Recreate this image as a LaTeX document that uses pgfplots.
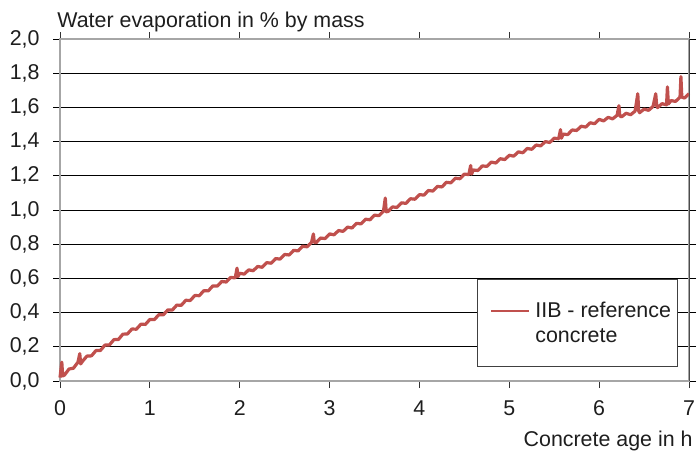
\documentclass[border=0pt]{standalone}
\usepackage{pgfplots}
\pgfplotsset{compat=1.18}
\usepackage{fontspec}
\setmainfont{Liberation Sans}
\definecolor{series}{RGB}{192,80,77}
\definecolor{txt}{RGB}{30,30,30}
\begin{document}
\begin{tikzpicture}
\begin{axis}[
  scale only axis,
  width=314.5pt, height=171pt,
  xmin=0, xmax=7, ymin=0, ymax=2,
  xtick={0,1,2,3,4,5,6,7},
  ytick={0,0.2,0.4,0.6,0.8,1.0,1.2,1.4,1.6,1.8,2.0},
  font=\fontsize{10.7}{12.5}\selectfont,
  /pgf/number format/assume math mode=true,
  /pgf/number format/use comma,
  yticklabel style={/pgf/number format/fixed, /pgf/number format/fixed zerofill, /pgf/number format/precision=1, inner sep=0pt, xshift=-6.5pt, text=txt},
  xticklabel style={inner sep=0pt, yshift=-6pt, anchor=north, text=txt},
  tick align=outside,
  major tick length=3.5pt,
  xtick style={draw=black!80, line width=0.5pt},
  ytick style={draw=black, line width=0.5pt},
  ymajorgrids,
  major grid style={draw=black, line width=0.5pt},
  axis line style={draw=black!35, line width=1pt},
  clip=false,
  legend style={at={(rel axis cs:0.663,0.041)}, anchor=south west, draw=black!75, line width=0.5pt,
    inner xsep=3.5pt, inner ysep=10.25pt, column sep=2.5pt, nodes={inner sep=0pt, text=txt}},
  legend image code/.code={\path (-2.5pt,0pt); \draw[#1, line width=1.25pt] (0pt,6pt) -- (19pt,6pt);},
]
\addplot[color=series, line width=1.6pt, line join=round] coordinates {
(0.00,0.020)(0.02,0.110)(0.03,0.030)(0.05,0.035)(0.10,0.070)(0.15,0.075)(0.20,0.110)(0.22,0.160)(0.23,0.100)
(0.25,0.115)(0.30,0.146)(0.35,0.147)(0.40,0.178)(0.45,0.179)(0.50,0.210)(0.55,0.211)(0.60,0.242)(0.65,0.243)
(0.70,0.274)(0.75,0.275)(0.80,0.304)(0.85,0.303)(0.90,0.332)(0.95,0.331)(1.00,0.360)(1.05,0.359)(1.10,0.388)
(1.15,0.387)(1.20,0.416)(1.25,0.415)(1.30,0.444)(1.35,0.443)(1.40,0.472)(1.45,0.471)(1.50,0.500)(1.55,0.499)
(1.60,0.528)(1.65,0.527)(1.70,0.556)(1.75,0.555)(1.80,0.582)(1.85,0.579)(1.90,0.606)(1.95,0.603)(1.97,0.660)
(1.98,0.610)(2.00,0.630)(2.05,0.625)(2.10,0.650)(2.15,0.645)(2.20,0.670)(2.25,0.665)(2.30,0.692)(2.35,0.689)
(2.40,0.716)(2.45,0.713)(2.50,0.740)(2.55,0.737)(2.60,0.764)(2.65,0.761)(2.70,0.788)(2.75,0.785)(2.80,0.812)
(2.82,0.860)(2.83,0.810)(2.85,0.809)(2.90,0.836)(2.95,0.833)(3.00,0.860)(3.05,0.855)(3.10,0.880)(3.15,0.875)
(3.20,0.900)(3.25,0.895)(3.30,0.922)(3.35,0.919)(3.40,0.946)(3.45,0.943)(3.50,0.970)(3.55,0.967)(3.60,0.994)
(3.62,1.070)(3.63,0.990)(3.65,0.991)(3.70,1.018)(3.75,1.015)(3.80,1.042)(3.85,1.039)(3.90,1.066)(3.95,1.063)
(4.00,1.090)(4.05,1.087)(4.10,1.114)(4.15,1.111)(4.20,1.138)(4.25,1.135)(4.30,1.162)(4.35,1.159)(4.40,1.186)
(4.45,1.183)(4.50,1.210)(4.55,1.207)(4.57,1.260)(4.58,1.210)(4.60,1.234)(4.65,1.231)(4.70,1.258)(4.75,1.255)
(4.80,1.280)(4.85,1.275)(4.90,1.300)(4.95,1.295)(5.00,1.320)(5.05,1.315)(5.10,1.340)(5.15,1.335)(5.20,1.360)
(5.25,1.355)(5.30,1.380)(5.35,1.375)(5.40,1.400)(5.45,1.395)(5.50,1.420)(5.55,1.417)(5.57,1.470)(5.58,1.420)
(5.60,1.444)(5.65,1.441)(5.70,1.468)(5.75,1.465)(5.80,1.490)(5.85,1.485)(5.90,1.510)(5.95,1.505)(6.00,1.530)
(6.05,1.521)(6.10,1.542)(6.15,1.533)(6.20,1.554)(6.22,1.610)(6.23,1.550)(6.25,1.545)(6.30,1.566)(6.35,1.557)
(6.40,1.578)(6.43,1.680)(6.44,1.580)(6.45,1.569)(6.50,1.590)(6.55,1.583)(6.60,1.606)(6.63,1.680)(6.64,1.610)
(6.65,1.599)(6.70,1.622)(6.75,1.615)(6.76,1.720)(6.77,1.620)(6.80,1.640)(6.85,1.635)(6.90,1.660)(6.91,1.780)
(6.92,1.660)(6.95,1.655)(7.00,1.680)
};
\addlegendentry{\begin{tabular}[b]{@{}l@{}}IIB - reference\\concrete\end{tabular}}
\draw[black!70, line width=0.5pt] (rel axis cs:1,0) -- (rel axis cs:1,1);
\coordinate (O) at (rel axis cs:0,0);
\node[anchor=base west, inner sep=0pt, text=txt] at (rel axis cs:0,1) [xshift=-1.5pt, yshift=6pt] {Water evaporation in \% by mass};
\node[anchor=base east, inner sep=0pt, text=txt] at (rel axis cs:1,0) [xshift=2pt, yshift=-32.5pt] {Concrete age in h};
\end{axis}
\pgfresetboundingbox
\path (O) ++(-30pt,-35.5pt) rectangle ++(349.5pt,226pt);
\end{tikzpicture}
\end{document}
